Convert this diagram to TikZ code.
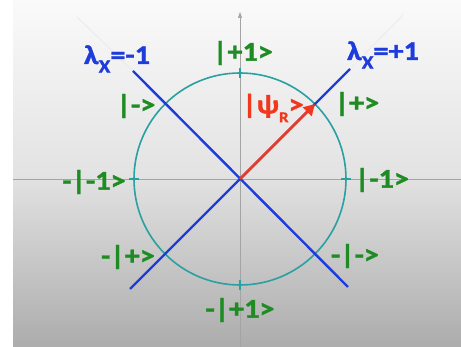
\documentclass[tikz,border=0pt]{standalone}
\usepackage{fontspec}
\setmainfont{Carlito}[FakeStretch=1.12,FakeBold=1.3]
\usetikzlibrary{arrows.meta,positioning,calc}
\definecolor{ket}{HTML}{1E8C22}
\definecolor{lam}{HTML}{1E3CDC}
\definecolor{ring}{HTML}{2AA0A0}
\definecolor{psi}{HTML}{F0381E}
\definecolor{axisgrey}{HTML}{A4A4A4}
\newcommand{\lowsub}[2]{\raisebox{-0.32em}{\fontsize{#1}{#1}\selectfont #2}}
\tikzset{
  ketlab/.style={font=\fontsize{27}{29}\selectfont\bfseries, text=ket, inner sep=1pt},
  lamlab/.style={font=\fontsize{27}{29}\selectfont\bfseries, text=lam, inner sep=1pt},
  psilab/.style={font=\fontsize{27}{29}\selectfont\bfseries, text=psi, inner sep=1pt},
  eig/.style={draw=lam, line width=2.4pt},
  axis/.style={draw=axisgrey, line width=0.6pt},
  tick/.style={draw=ring, line width=1.4pt},
  vec/.style={-{Triangle[length=11pt,width=12pt]}, draw=psi, fill=psi, line width=2.8pt},
}
\begin{document}
\begin{tikzpicture}[x=1pt,y=1pt]
  \useasboundingbox (0,0) rectangle (461,347);
  \fill[white] (0,0) rectangle (461,347);
  \shade[top color=gray!4, bottom color=gray!65, middle color=gray!22] (13,0) rectangle (461,347);

  % axes and circle
  \coordinate (O) at (240,168);
  \coordinate (xl) at (13,168);
  \coordinate (xr) at (461,168);
  \coordinate (yb) at (240,0);
  \coordinate (yt) at (240,335);
  \draw[axis] (xl) -- (xr);
  \draw[axis, -{Triangle[length=6pt,width=4pt]}] (yb) -- (yt);
  \draw[ring, line width=1.6pt] (O) circle (106);
  \foreach \a in {0,90,180,270}
    \draw[tick] ($(O)+(\a:101)$) -- ($(O)+(\a:111)$);

  % eigen lines
  \coordinate (p1) at (130,58);
  \coordinate (p2) at (350,278);
  \coordinate (m1) at (133,276);
  \coordinate (m2) at (348,60);
  \draw[white!85!gray, line width=1pt] (m1) -- (77,330);
  \draw[white!85!gray, line width=1pt] (p2) -- (403,332);
  \draw[eig] (p1) -- (p2);
  \draw[eig] (m1) -- (m2);

  % state vector
  \coordinate (tip) at ($(O)+(45:106)$);
  \draw[vec] (O) -- (tip);

  % labels
  \node[ketlab] (up) at (243,294) {|+1>};
  \node[ketlab] (dn) at (240,37) {-|+1>};
  \node[ketlab] (rt) at (382,167) {|-1>};
  \node[ketlab] (lf) at (94,165) {-|-1>};
  \node[ketlab] (pl) at (357,243) {|+>};
  \node[ketlab] (mi) at (136,241) {|->};
  \node[ketlab] (npl) at (128,90) {-|+>};
  \node[ketlab] (nmi) at (355,91) {-|->};
  \node[lamlab] (lm) at (117,288) {λ\lowsub{19}{X}=-1};
  \node[lamlab] (lp) at (383,292) {λ\lowsub{19}{X}=+1};
  \node[psilab] (ps) at (273,239) {|ψ\lowsub{15}{R}>};
\end{tikzpicture}
\end{document}
